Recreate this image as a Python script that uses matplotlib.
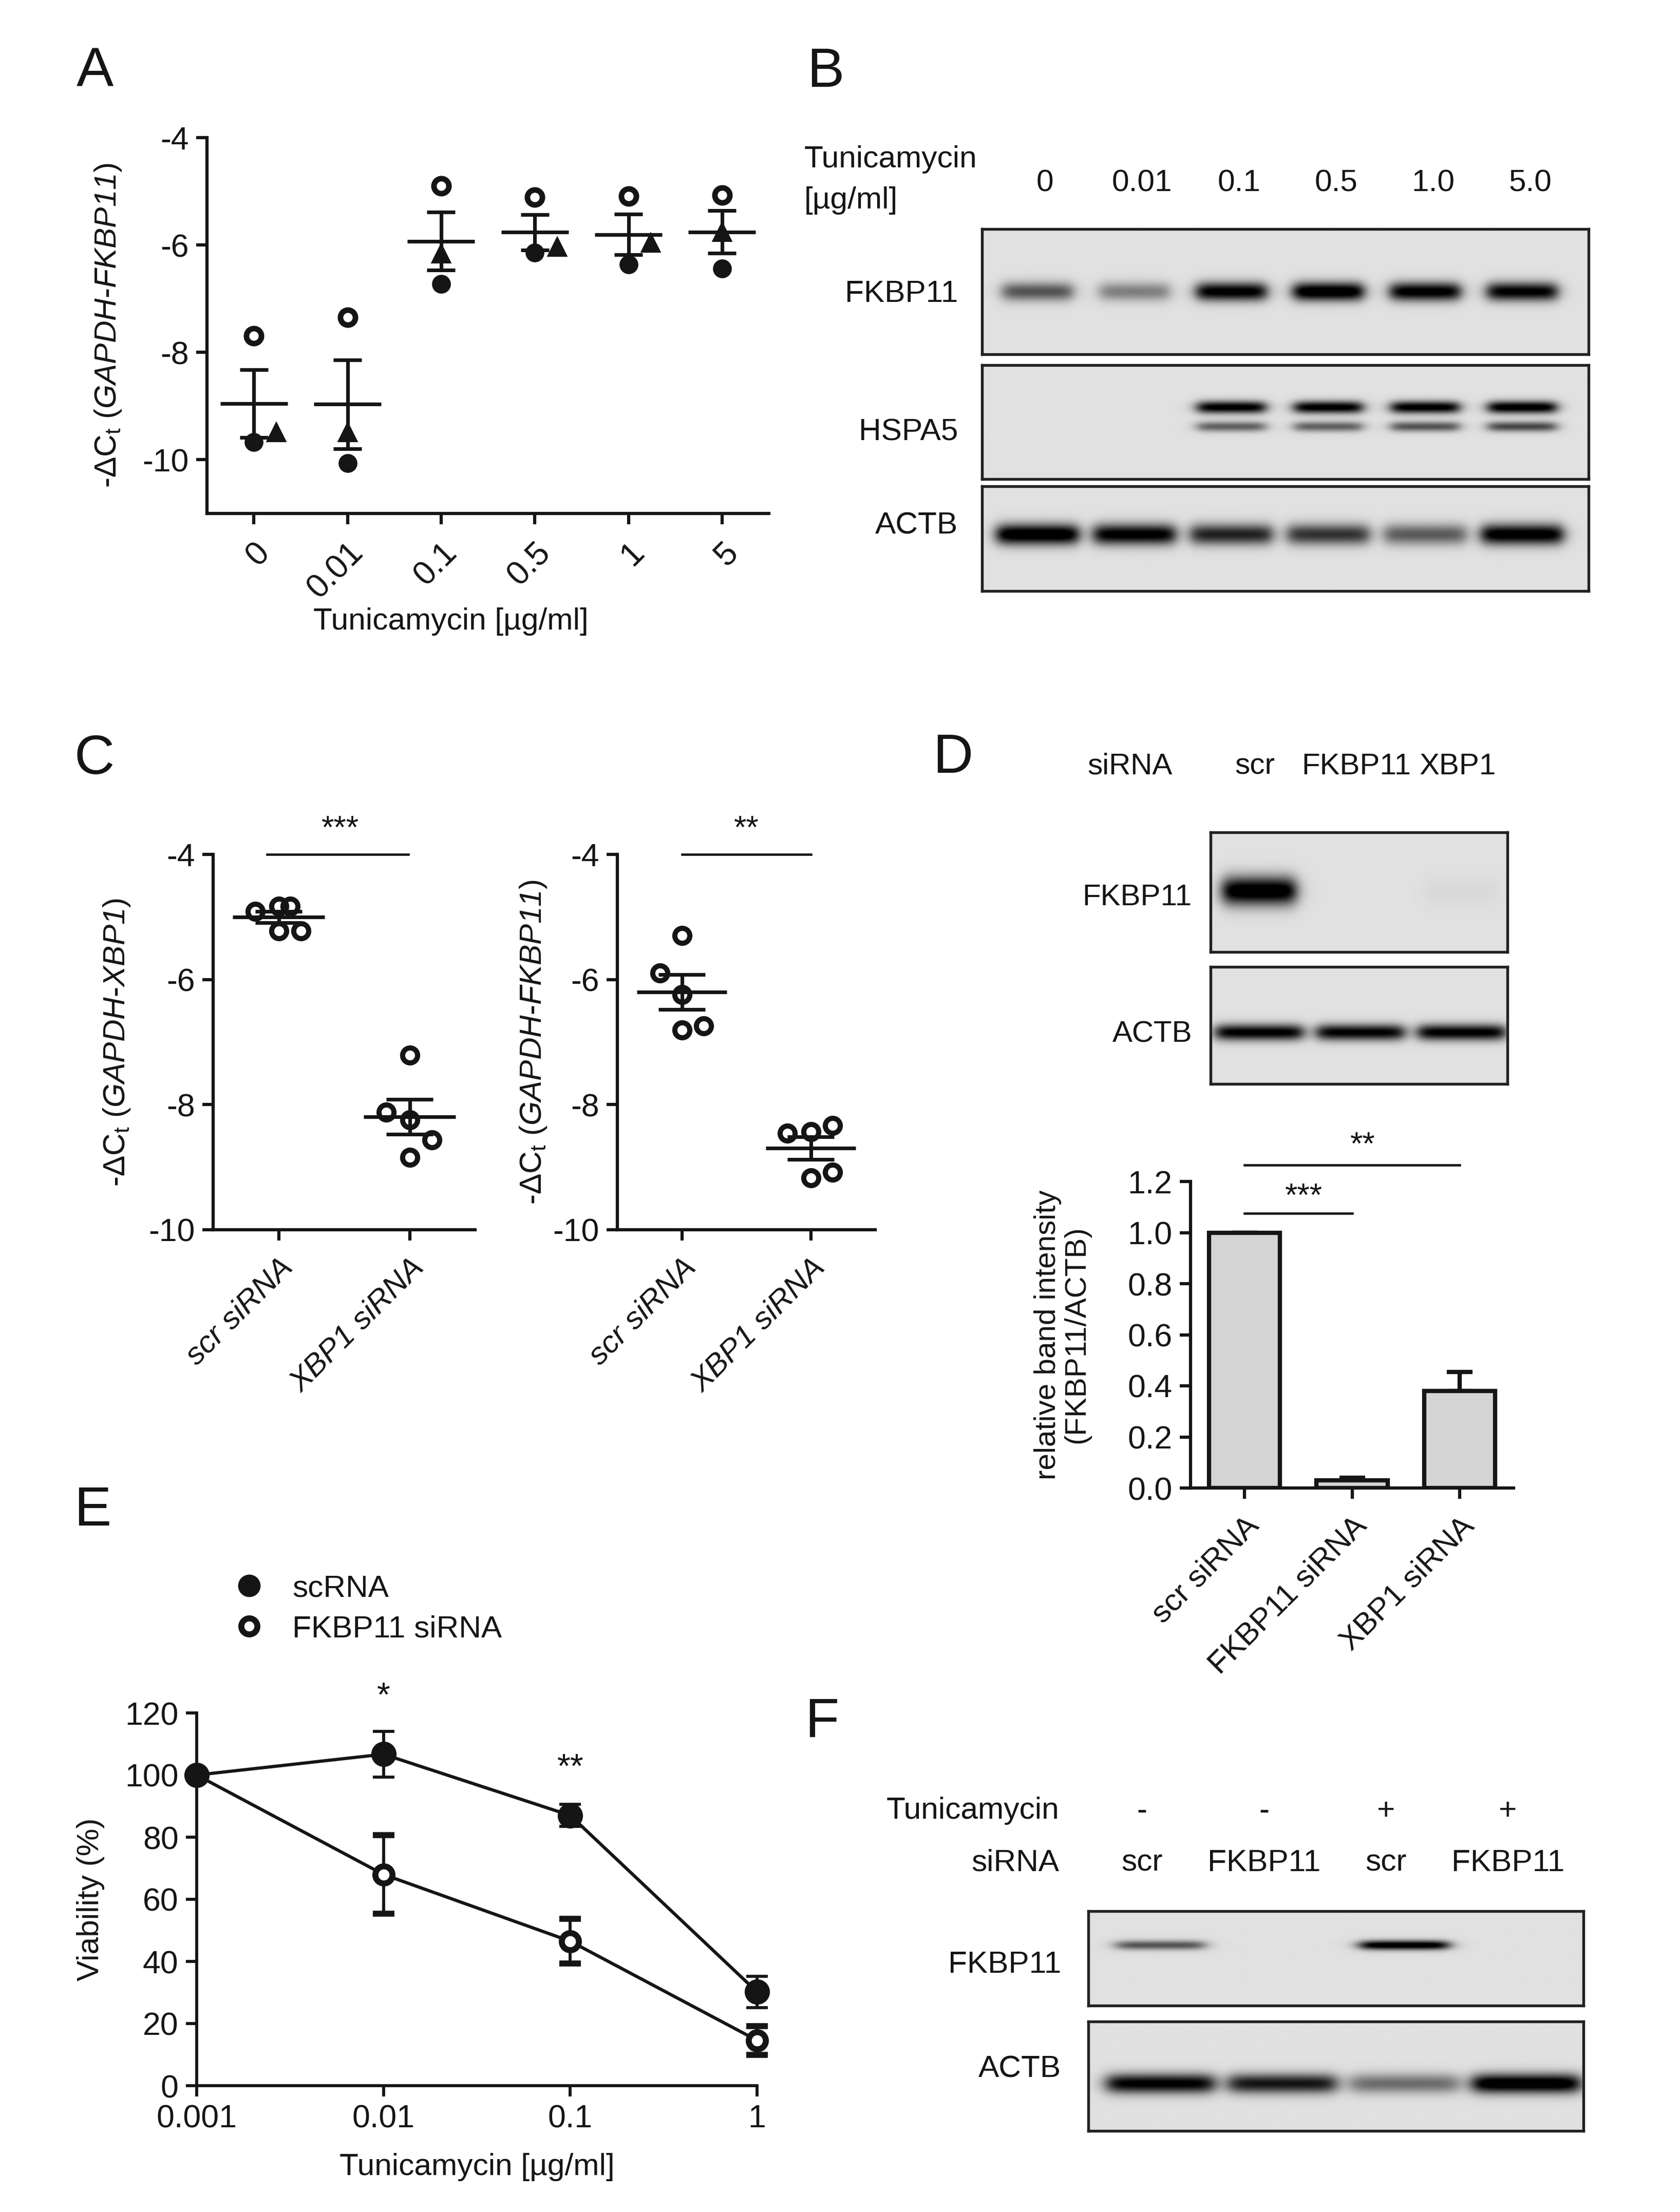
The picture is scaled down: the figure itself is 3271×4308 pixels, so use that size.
import numpy as np
import matplotlib
matplotlib.use("Agg")
import matplotlib.pyplot as plt
from matplotlib.lines import Line2D
from matplotlib.ticker import NullLocator, FormatStrFormatter
from matplotlib.transforms import blended_transform_factory

plt.rcParams['font.family'] = ['Liberation Sans', 'DejaVu Sans']
plt.rcParams['mathtext.fontset'] = 'custom'
plt.rcParams['mathtext.rm'] = 'Liberation Sans'
plt.rcParams['mathtext.it'] = 'Liberation Sans:italic'
# \mathbf is used for italic gene names so that the digits stay italic too
plt.rcParams['mathtext.bf'] = 'Liberation Sans:italic'
plt.rcParams['axes.unicode_minus'] = False
INK = '#151515'
FS = 15          # tick labels
FL = 14.5        # axis labels / blot labels

# ---- data ----
# A: -dCt (GAPDH-FKBP11), three experiments per dose
a_doses = ['0', '0.01', '0.1', '0.5', '1', '5']
a_open = [-7.69, -7.35, -4.90, -5.11, -5.09, -5.07]
a_filled = [-9.67, -10.06, -6.73, -6.14, -6.36, -6.44]
a_tri = [-9.49, -9.49, -6.16, -6.04, -5.96, -5.76]

# B: western blot band strengths (0 = none, 1 = saturated)
b_lanes = ['0', '0.01', '0.1', '0.5', '1.0', '5.0']
b_fkbp11 = [0.55, 0.38, 0.92, 1.0, 0.93, 0.90]
b_hspa5_upper = [0.0, 0.0, 0.92, 0.92, 0.92, 0.95]
b_hspa5_lower = [0.0, 0.0, 0.50, 0.50, 0.55, 0.60]
b_actb = [1.0, 0.92, 0.75, 0.68, 0.52, 0.95]

# C: -dCt after siRNA
c_groups = ['scr siRNA', 'XBP1 siRNA']
c_xbp1_scr = [-4.91, -4.83, -4.83, -5.22, -5.22]
c_xbp1_si = [-7.21, -8.12, -8.24, -8.56, -8.84]
c_fkbp_scr = [-5.30, -5.90, -6.24, -6.81, -6.74]
c_fkbp_si = [-8.46, -8.43, -8.33, -9.17, -9.08]

# D: blot + quantification
d_lanes = ['scr', 'FKBP11', 'XBP1']
d_fkbp11_band = [1.0, 0.0, 0.03]
d_actb_band = [0.90, 0.88, 0.90]
d_groups = ['scr siRNA', 'FKBP11 siRNA', 'XBP1 siRNA']
d_mean = [1.0, 0.03, 0.38]
d_err = [0.0, 0.01, 0.075]

# E: viability
e_dose = [0.001, 0.01, 0.1, 1]
e_dose_labels = ['0.001', '0.01', '0.1', '1']
e_scr = [100, 106.7, 87.0, 30.2]
e_scr_err = [0, 7.4, 3.6, 5.0]
e_fk = [100, 68.0, 46.5, 14.6]
e_fk_err = [0, 12.6, 7.2, 4.6]

# F: blot
f_tunica = ['-', '-', '+', '+']
f_sirna = ['scr', 'FKBP11', 'scr', 'FKBP11']
f_fkbp11_band = [0.55, 0.0, 0.97, 0.0]
f_actb_band = [0.90, 0.80, 0.45, 1.0]

# ---- layout helpers (pixel coords of the 3271 x 4308 canvas) ----
W, H = 3271, 4308
fig = plt.figure(figsize=(W / 300, H / 300), dpi=300)


def box(l, t, r, b):
    return [l / W, 1 - b / H, (r - l) / W, (b - t) / H]


def ftext(x, y, s, **kw):
    kw.setdefault('color', INK)
    fig.text(x / W, 1 - y / H, s, **kw)


def dct_label(gene):
    return r'-$\Delta$C$_{\rm t}$ ($\mathbf{GAPDH}$-$\mathbf{%s}$)' % gene


def style_axes(ax, lw=1.5):
    for s in ['top', 'right']:
        ax.spines[s].set_visible(False)
    for s in ['left', 'bottom']:
        ax.spines[s].set_linewidth(lw)
        ax.spines[s].set_color(INK)
    ax.tick_params(width=lw, length=5, color=INK, labelsize=FS, labelcolor=INK)


def mean_sem(ax, x, vals, mean_hw, cap_hw, lw=1.7):
    vals = np.asarray(vals)
    m = vals.mean()
    sem = vals.std(ddof=1) / np.sqrt(len(vals))
    ax.hlines(m, x - mean_hw, x + mean_hw, color=INK, lw=lw, zorder=4)
    ax.vlines(x, m - sem, m + sem, color=INK, lw=lw, zorder=4)
    ax.hlines([m - sem, m + sem], x - cap_hw, x + cap_hw, color=INK, lw=lw, zorder=4)


def blot(l, t, r, b, xlim, rows, bg=0.88):
    ax = fig.add_axes(box(l, t, r, b))
    xs = np.linspace(xlim[0], xlim[1], 700)
    ys = np.linspace(0, 1, 220)
    X, Y = np.meshgrid(xs, ys)
    dark = np.zeros_like(X)
    for vals, yc, hh, hw in rows:
        for i, v in enumerate(vals):
            px = 1 / (1 + np.exp((np.abs(X - i) - hw) / 0.04))
            py = np.exp(-((Y - yc) / hh) ** 2)
            dark += 1.15 * v * px * py
    img = bg * (1 - np.clip(dark, 0, 1))
    ax.imshow(img, extent=(xlim[0], xlim[1], 0, 1), origin='lower', cmap='gray',
              vmin=0, vmax=1, aspect='auto', interpolation='bilinear')
    ax.set_xlim(*xlim)
    ax.set_ylim(0, 1)
    ax.set_xticks([])
    ax.set_yticks([])
    for s in ax.spines.values():
        s.set_linewidth(1.3)
        s.set_color('#222222')
    return ax


def panel_letter(x, y, s):
    ftext(x, y, s, fontsize=26, ha='center', va='center')


# ---- A ----
panel_letter(185, 141, 'A')
ax = fig.add_axes(box(403, 268, 1497, 1000))
style_axes(ax)
xa = np.arange(len(a_doses))
tri_dx = [0.24, 0, 0, 0.24, 0.24, 0]
for i in xa:
    ax.plot(i, a_open[i], 'o', ms=7, mfc='none', mec=INK, mew=2.6, zorder=3)
    ax.plot(i, a_filled[i], 'o', ms=7.8, color=INK, zorder=3)
    ax.plot(i + tri_dx[i], a_tri[i], '^', ms=8, color=INK, zorder=3)
    mean_sem(ax, i, [a_open[i], a_filled[i], a_tri[i]], 0.36, 0.15)
ax.set_xlim(-0.5, 5.5)
ax.set_ylim(-11, -4)
ax.set_yticks([-4, -6, -8, -10])
ax.set_xticks(xa)
ax.set_xticklabels(a_doses, rotation=45, ha='right', rotation_mode='anchor', fontsize=15.5)
ax.tick_params(axis='x', pad=6)
ax.set_ylabel(dct_label('FKBP11'), fontsize=FL, color=INK)
ax.yaxis.set_label_coords(-0.149, 0.5)
ax.set_xlabel('Tunicamycin [µg/ml]', fontsize=FL, color=INK)
ax.xaxis.set_label_coords(0.434, -0.25)

# ---- B ----
panel_letter(1607, 141, 'B')
ftext(1566, 310, 'Tunicamycin', fontsize=FL, ha='left', va='center')
ftext(1566, 390, '[µg/ml]', fontsize=FL, ha='left', va='center')
b_xlim = (-0.57, 5.68)
bx1 = blot(1912, 446, 3093, 690, b_xlim, [(b_fkbp11, 0.5, 0.075, 0.36)])
blot(1912, 711, 3093, 933, b_xlim, [(b_hspa5_upper, 0.63, 0.055, 0.35),
                                    (b_hspa5_lower, 0.46, 0.045, 0.35)])
blot(1912, 947, 3093, 1151, b_xlim, [(b_actb, 0.54, 0.10, 0.42)])
tr = blended_transform_factory(bx1.transData, fig.transFigure)
for i, s in enumerate(b_lanes):
    bx1.text(i + 0.08, 1 - 357 / H, s, transform=tr, fontsize=FL, ha='center', va='center',
             color=INK)
for s, y in [('FKBP11', 572), ('HSPA5', 842), ('ACTB', 1024)]:
    ftext(1865, y, s, fontsize=FL, ha='right', va='center')

# ---- C ----
panel_letter(184, 1479, 'C')
c_sets = [
    (box(415, 1664, 925, 2395), c_xbp1_scr, c_xbp1_si, [-0.18, 0, 0.09, 0, 0.17],
     [0, -0.18, 0, 0.17, 0], 'XBP1', -0.31, (-0.09, 0.99), 0.47, '***'),
    (box(1202, 1664, 1704, 2395), c_fkbp_scr, c_fkbp_si, [0, -0.17, 0, 0, 0.17],
     [-0.18, 0, 0.17, 0, 0.17], 'FKBP11', -0.267, (0.0, 1.0), 0.5, '**'),
]
for pos, scr, si, dx1, dx2, gene, lx, sig_x, star_x, stars in c_sets:
    ax = fig.add_axes(pos)
    style_axes(ax)
    for x, vals, dx in [(0, scr, dx1), (1, si, dx2)]:
        ax.plot(x + np.asarray(dx), vals, ls='none', marker='o', ms=7, mfc='none',
                mec=INK, mew=2.4, zorder=3)
        mean_sem(ax, x, vals, 0.35, 0.18)
    ax.set_xlim(-0.5, 1.5)
    ax.set_ylim(-10, -4)
    ax.set_yticks([-4, -6, -8, -10])
    ax.set_xticks([0, 1])
    ax.set_xticklabels(c_groups, rotation=45, ha='right', rotation_mode='anchor',
                       style='italic', fontsize=FL)
    ax.tick_params(axis='x', pad=6)
    ax.set_ylabel(dct_label(gene), fontsize=FL, color=INK)
    ax.yaxis.set_label_coords(lx, 0.5)
    ax.plot(sig_x, [-4, -4], color=INK, lw=1.1, clip_on=False)
    ax.text(star_x, -3.6, stars, ha='center', va='center', fontsize=15, color=INK)

# ---- D ----
panel_letter(1855, 1477, 'D')
ftext(2200, 1493, 'siRNA', fontsize=14, ha='center', va='center')
d_xlim = (-0.48, 2.45)
dx1 = blot(2357, 1621, 2935, 1854, d_xlim, [(d_fkbp11_band, 0.51, 0.12, 0.36)])
blot(2357, 1883, 2935, 2111, d_xlim, [(d_actb_band, 0.44, 0.07, 0.43)])
tr = blended_transform_factory(dx1.transData, fig.transFigure)
for i, s in enumerate(d_lanes):
    dx1.text(i - 0.04, 1 - 1493 / H, s, transform=tr, fontsize=14, ha='center',
             va='center', color=INK)
ftext(2320, 1748, 'FKBP11', fontsize=14, ha='right', va='center')
ftext(2322, 2014, 'ACTB', fontsize=14, ha='right', va='center')

ax = fig.add_axes(box(2318, 2301, 2947, 2898))
style_axes(ax)
xd = np.arange(len(d_groups))
ax.bar(xd, d_mean, width=0.66, color='#d4d4d4', edgecolor=INK, linewidth=2.0, zorder=2)
ax.errorbar(xd, d_mean, yerr=[np.zeros(3), d_err], fmt='none', ecolor=INK,
            elinewidth=2.0, capsize=6, capthick=2.0, zorder=1)
ax.set_xlim(-0.5, 2.5)
ax.set_ylim(0, 1.2)
ax.set_yticks(np.arange(0, 1.21, 0.2))
ax.yaxis.set_major_formatter(FormatStrFormatter('%.1f'))
ax.set_xticks(xd)
ax.set_xticklabels(d_groups, rotation=45, ha='right', rotation_mode='anchor', fontsize=14.5)
ax.tick_params(axis='x', pad=6)
ax.set_ylabel('relative band intensity\n(FKBP11/ACTB)', fontsize=14, color=INK,
              linespacing=1.05)
ax.yaxis.set_label_coords(-0.31, 0.5)
ax.plot([0, 1], [1.075, 1.075], color=INK, lw=1.1, clip_on=False)
ax.text(0.55, 1.14, '***', ha='center', va='center', fontsize=15, color=INK)
ax.plot([0, 2], [1.265, 1.265], color=INK, lw=1.1, clip_on=False)
ax.text(1.1, 1.34, '**', ha='center', va='center', fontsize=15, color=INK)

# ---- E ----
panel_letter(180, 2943, 'E')
ax = fig.add_axes(box(383, 3336, 1474, 4062))
style_axes(ax, lw=1.4)
ax.errorbar(e_dose, e_fk, yerr=e_fk_err, fmt='-o', color=INK, lw=1.5, ms=8,
            mfc='white', mec=INK, mew=2.8, elinewidth=1.4, capsize=5, capthick=1.4,
            clip_on=False, zorder=3)
ax.errorbar(e_dose, e_scr, yerr=e_scr_err, fmt='-o', color=INK, lw=1.5, ms=10.8,
            mfc=INK, mec=INK, elinewidth=1.4, capsize=5, capthick=1.4,
            clip_on=False, zorder=4)
ax.set_xscale('log')
ax.set_xlim(0.001, 1)
ax.set_ylim(0, 120)
ax.set_yticks(range(0, 121, 20))
ax.set_xticks(e_dose)
ax.set_xticklabels(e_dose_labels)
ax.xaxis.set_minor_locator(NullLocator())
ax.set_ylabel('Viability (%)', fontsize=FL, color=INK)
ax.yaxis.set_label_coords(-0.164, 0.5)
ax.set_xlabel('Tunicamycin [µg/ml]', fontsize=FL, color=INK)
ax.xaxis.set_label_coords(0.5, -0.18)
ax.text(0.01, 125, '*', ha='center', va='center', fontsize=16, color=INK)
ax.text(0.1, 102, '**', ha='center', va='center', fontsize=16, color=INK)
handles = [Line2D([], [], ls='none', marker='o', ms=9.5, color=INK),
           Line2D([], [], ls='none', marker='o', ms=7.5, mfc='white', mec=INK, mew=2.8)]
fig.legend(handles, ['scRNA', 'FKBP11 siRNA'], loc='upper left', frameon=False,
           bbox_to_anchor=(400 / W, 1 - 3012 / H), fontsize=FL, handletextpad=0.9,
           labelspacing=0.4, handlelength=1.0, labelcolor=INK)

# ---- F ----
panel_letter(1600, 3355, 'F')
f_xlim = (-0.59, 3.47)
fx1 = blot(2119, 3722, 3083, 3906, f_xlim, [(f_fkbp11_band, 0.64, 0.05, 0.36)])
blot(2119, 3937, 3083, 4150, f_xlim, [(f_actb_band, 0.43, 0.09, 0.44)])
tr = blended_transform_factory(fx1.transData, fig.transFigure)
ftext(2062, 3527, 'Tunicamycin', fontsize=FL, ha='right', va='center')
ftext(2062, 3628, 'siRNA', fontsize=FL, ha='right', va='center')
for i in range(len(f_sirna)):
    fx1.text(i - 0.15, 1 - 3527 / H, f_tunica[i], transform=tr, fontsize=FL, ha='center',
             va='center', color=INK)
    fx1.text(i - 0.15, 1 - 3628 / H, f_sirna[i], transform=tr, fontsize=FL, ha='center',
             va='center', color=INK)
ftext(2066, 3826, 'FKBP11', fontsize=FL, ha='right', va='center')
ftext(2066, 4030, 'ACTB', fontsize=FL, ha='right', va='center')

fig.savefig('out.png', dpi=300, facecolor='white')
